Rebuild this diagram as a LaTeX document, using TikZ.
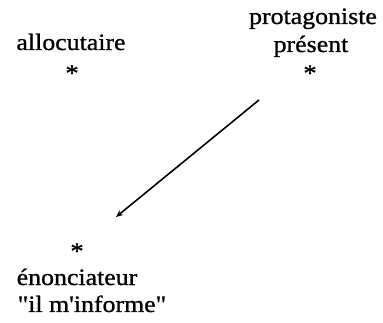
\documentclass[tikz,border=0pt]{standalone}
\usepackage{fontspec}
\setmainfont{Liberation Serif}[FakeStretch=1.1, FakeBold=1, Ligatures=TeXOff]
\usetikzlibrary{arrows.meta}
\begin{document}
\begin{tikzpicture}[x=1pt, y=-1pt,
  lbl/.style={anchor=base, inner sep=0pt, font=\fontsize{23.5}{28}\selectfont},
  star/.style={anchor=base, inner sep=0pt, font=\fontsize{24}{28}\selectfont},
  link/.style={line width=1.6pt, -{Stealth[length=7pt, width=6pt]}}]
\useasboundingbox (0,0) rectangle (383,323);
\node[lbl] (proto) at (313,24) {protagoniste};
\node[lbl] (pres) at (311,52) {présent};
\node[lbl] (allo) at (71,50) {allocutaire};
\node[star] (s1) at (72,81) {*};
\node[star] (s2) at (310,81) {*};
\node[star] (s3) at (77,259) {*};
\node[lbl] (enon) at (77,285) {énonciateur};
\node[lbl] (info) at (92,312) {"il m'informe"};
\coordinate (a) at (259,100);
\coordinate (b) at (116,217);
\draw[link] (a) -- (b);
\end{tikzpicture}
\end{document}
